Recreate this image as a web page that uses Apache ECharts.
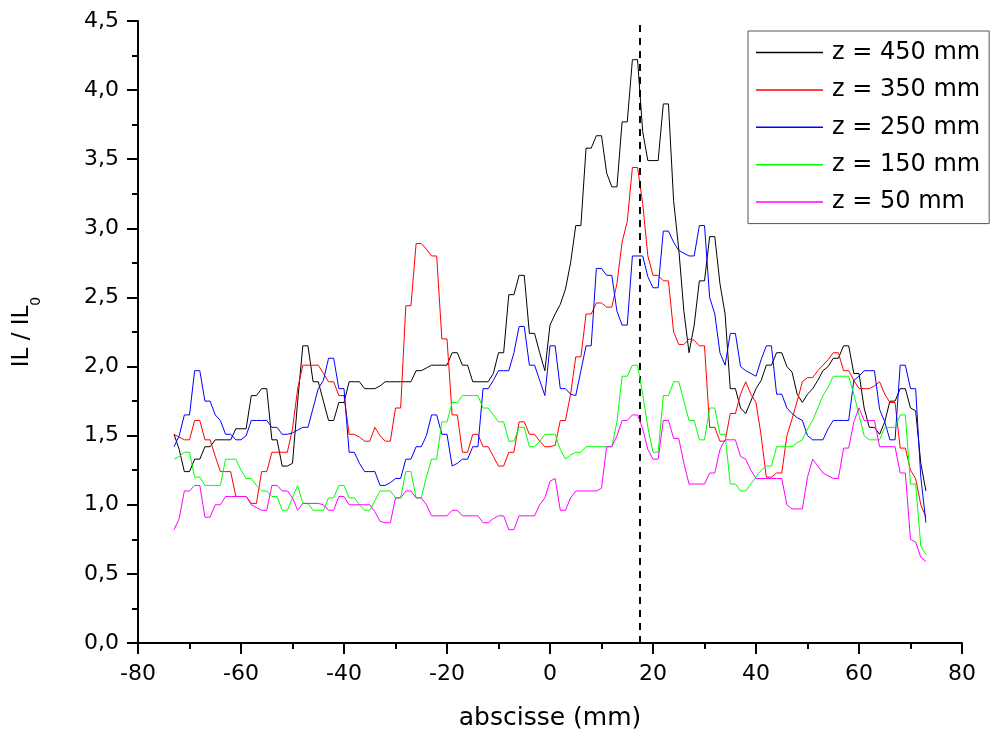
<!DOCTYPE html>
<html>
<head>
<meta charset="utf-8">
<script src="https://cdn.jsdelivr.net/npm/echarts@6/dist/echarts.min.js"></script>
<style>html,body{margin:0;padding:0;background:#fff}#c{width:992px;height:740px}</style>
</head>
<body>
<div id="c"></div>
<script>
// abscissa positions (mm), one per sample
var XS = [];
for (var k = -73; k <= 73; k++) XS.push(k);

var SERIES_NAMES = ['z = 450 mm', 'z = 350 mm', 'z = 250 mm', 'z = 150 mm', 'z = 50 mm'];

var Z450 = [
1.51,1.40,1.24,1.24,1.33,1.33,1.42,1.42,1.47,1.47,
1.47,1.47,1.55,1.55,1.55,1.79,1.79,1.84,1.84,1.47,
1.47,1.28,1.28,1.30,1.75,2.15,2.15,1.89,1.89,1.75,
1.61,1.61,1.74,1.74,1.89,1.89,1.89,1.84,1.84,1.84,
1.86,1.89,1.89,1.89,1.89,1.89,1.89,1.97,1.97,1.99,
2.01,2.01,2.01,2.01,2.10,2.10,2.01,2.01,1.89,1.89,
1.89,1.89,1.95,2.10,2.10,2.52,2.52,2.66,2.66,2.24,
2.24,2.10,1.97,2.30,2.38,2.45,2.56,2.75,3.02,3.02,
3.58,3.58,3.67,3.67,3.40,3.30,3.30,3.77,3.77,4.22,
4.22,3.70,3.49,3.49,3.49,3.90,3.90,3.20,2.85,2.40,
2.10,2.30,2.62,2.62,2.94,2.94,2.60,2.38,1.84,1.84,
1.70,1.66,1.75,1.84,1.90,2.01,2.01,2.10,2.10,2.00,
1.96,1.80,1.74,1.80,1.84,1.90,1.97,2.00,2.06,2.06,
2.15,2.15,1.95,1.95,1.70,1.56,1.56,1.51,1.60,1.75,
1.75,1.84,1.84,1.70,1.68,1.30,1.10];

var Z350 = [
1.51,1.49,1.47,1.47,1.61,1.61,1.47,1.47,1.35,1.24,
1.24,1.24,1.06,1.06,1.06,1.01,1.01,1.24,1.24,1.38,
1.38,1.38,1.38,1.55,1.84,2.01,2.01,2.01,2.01,1.95,
1.89,1.89,1.79,1.79,1.51,1.51,1.49,1.46,1.46,1.56,
1.50,1.46,1.46,1.70,1.70,2.44,2.44,2.89,2.89,2.85,
2.80,2.80,2.20,2.20,1.65,1.65,1.38,1.38,1.51,1.51,
1.42,1.42,1.35,1.28,1.28,1.38,1.38,1.60,1.60,1.51,
1.51,1.46,1.42,1.42,1.43,1.61,1.61,1.80,2.07,2.07,
2.38,2.38,2.46,2.46,2.43,2.43,2.60,2.90,3.05,3.44,
3.44,3.18,2.80,2.66,2.66,2.62,2.62,2.25,2.16,2.16,
2.20,2.19,2.15,2.15,1.56,1.56,1.46,1.46,1.66,1.66,
1.80,1.89,1.80,1.74,1.50,1.20,1.20,1.23,1.23,1.50,
1.62,1.75,1.89,1.92,1.92,1.97,2.01,2.05,2.10,2.10,
1.97,1.97,1.90,1.84,1.84,1.84,1.86,1.89,1.80,1.74,
1.74,1.41,1.41,1.25,1.19,1.00,0.91];

var Z250 = [
1.42,1.50,1.65,1.65,1.97,1.97,1.75,1.75,1.65,1.61,
1.51,1.51,1.47,1.47,1.50,1.61,1.61,1.61,1.61,1.56,
1.56,1.51,1.51,1.52,1.54,1.56,1.56,1.70,1.84,1.90,
2.06,2.06,1.84,1.84,1.38,1.38,1.30,1.24,1.24,1.24,
1.14,1.14,1.16,1.19,1.19,1.33,1.33,1.42,1.42,1.50,
1.65,1.65,1.51,1.51,1.28,1.30,1.33,1.33,1.42,1.42,
1.84,1.84,1.90,1.97,1.97,1.97,2.10,2.29,2.29,2.01,
2.01,1.90,1.79,2.15,2.15,1.84,1.84,1.80,1.79,1.97,
2.15,2.15,2.71,2.71,2.66,2.66,2.40,2.30,2.30,2.80,
2.80,2.80,2.65,2.57,2.57,2.98,2.98,2.90,2.84,2.82,
2.80,2.80,3.02,3.02,2.50,2.38,2.10,2.01,2.24,2.24,
2.00,1.97,1.95,1.93,2.05,2.15,2.15,1.80,1.80,1.70,
1.66,1.63,1.61,1.50,1.47,1.47,1.47,1.55,1.61,1.61,
1.61,1.61,1.90,1.93,1.97,1.97,1.97,1.69,1.60,1.47,
1.47,2.01,2.01,1.84,1.84,1.20,0.87];

var Z150 = [
1.33,1.35,1.38,1.38,1.20,1.20,1.14,1.14,1.14,1.14,
1.33,1.33,1.33,1.25,1.19,1.19,1.14,1.10,1.10,1.06,
1.06,0.96,0.96,1.05,1.14,1.01,1.01,0.96,0.96,0.96,
1.05,1.05,1.14,1.14,1.05,1.05,1.00,0.96,0.96,1.03,
1.10,1.10,1.10,1.05,1.05,1.24,1.24,1.05,1.05,1.20,
1.33,1.33,1.60,1.60,1.74,1.74,1.79,1.79,1.79,1.79,
1.70,1.70,1.65,1.60,1.60,1.46,1.46,1.56,1.56,1.42,
1.42,1.46,1.51,1.51,1.51,1.40,1.33,1.36,1.38,1.38,
1.42,1.42,1.42,1.42,1.42,1.42,1.60,1.93,1.93,2.01,
2.01,1.80,1.56,1.38,1.38,1.79,1.79,1.89,1.89,1.75,
1.61,1.61,1.47,1.47,1.70,1.70,1.51,1.51,1.15,1.15,
1.10,1.10,1.15,1.20,1.25,1.28,1.28,1.42,1.42,1.42,
1.42,1.45,1.47,1.55,1.61,1.70,1.79,1.85,1.93,1.93,
1.93,1.93,1.80,1.65,1.50,1.47,1.47,1.47,1.56,1.56,
1.56,1.65,1.65,1.15,1.15,0.70,0.64];

var Z50 = [
0.82,0.90,1.10,1.10,1.14,1.14,0.91,0.91,1.00,1.00,
1.06,1.06,1.06,1.06,1.06,1.00,0.98,0.96,0.96,1.14,
1.14,1.10,1.10,1.05,0.96,1.01,1.01,1.01,1.01,1.00,
0.96,0.96,1.06,1.06,1.00,1.00,1.00,1.00,1.00,0.95,
0.88,0.87,0.87,1.05,1.05,1.10,1.10,1.05,1.05,1.00,
0.92,0.92,0.92,0.92,0.96,0.96,0.92,0.92,0.92,0.92,
0.87,0.87,0.90,0.92,0.92,0.82,0.82,0.92,0.92,0.92,
0.92,1.00,1.05,1.17,1.19,0.96,0.96,1.05,1.10,1.10,
1.10,1.10,1.10,1.12,1.42,1.42,1.50,1.61,1.61,1.65,
1.65,1.55,1.40,1.33,1.33,1.61,1.61,1.48,1.48,1.30,
1.15,1.15,1.15,1.15,1.23,1.23,1.40,1.47,1.47,1.47,
1.35,1.33,1.25,1.19,1.19,1.19,1.19,1.19,1.19,1.00,
0.97,0.97,0.97,1.20,1.33,1.28,1.23,1.21,1.19,1.19,
1.41,1.41,1.60,1.70,1.61,1.61,1.61,1.42,1.42,1.42,
1.42,1.23,1.23,0.75,0.73,0.62,0.59];

var DASH_X = 17.5;
var X_MIN = -80, X_MAX = 80, X_STEP = 20;
var Y_MIN = 0, Y_MAX = 4.5, Y_STEP = 0.5;

var VALUES = [Z450, Z350, Z250, Z150, Z50];
var COLORS = ['#000000', '#ff0000', '#0000ff', '#00ff00', '#ff00ff'];
var FONT = 'DejaVu Sans';

function pairs(vals) {
  return XS.map(function (x, i) { return [x, vals[i]]; });
}

var series = VALUES.map(function (vals, i) {
  return {
    name: SERIES_NAMES[i],
    type: 'line',
    data: pairs(vals),
    symbol: 'none',
    showSymbol: false,
    lineStyle: { width: 1, color: COLORS[i] },
    itemStyle: { color: COLORS[i] },
    z: 2 + i
  };
});
series[0].markLine = {
  silent: true,
  symbol: 'none',
  label: { show: false },
  lineStyle: { type: [7, 6], color: '#000', width: 2 },
  data: [{ xAxis: DASH_X }]
};

var axisCommon = {
  axisLine: { show: true, onZero: false, lineStyle: { color: '#000', width: 2 } },
  axisTick: { show: true, inside: false, length: 11, lineStyle: { color: '#000', width: 2 } },
  minorTick: { show: true, splitNumber: 2, length: 6, lineStyle: { color: '#000', width: 2 } },
  splitLine: { show: false },
  minorSplitLine: { show: false }
};

var chart = echarts.init(document.getElementById('c'), null, { renderer: 'canvas' });
chart.setOption({
  animation: false,
  backgroundColor: '#fff',
  grid: { left: 138, right: 30, top: 21, bottom: 97, containLabel: false },
  legend: {
    show: true,
    orient: 'vertical',
    left: 748,
    top: 31,
    padding: [8, 9, 8, 8],
    icon: 'rect',
    itemWidth: 67,
    itemHeight: 1.5,
    itemGap: 10.4,
    borderColor: '#555',
    borderWidth: 1,
    backgroundColor: '#fff',
    textStyle: { fontFamily: FONT, fontSize: 24, lineHeight: 27, color: '#000', padding: [0, 0, 0, 4] },
    data: SERIES_NAMES
  },
  xAxis: Object.assign({
    type: 'value',
    min: X_MIN, max: X_MAX, interval: X_STEP,
    name: 'abscisse (mm)',
    nameLocation: 'middle',
    nameGap: 63,
    nameTextStyle: { fontFamily: FONT, fontSize: 25, color: '#000' },
    axisLabel: { fontFamily: FONT, fontSize: 22, color: '#000', margin: 20 }
  }, axisCommon),
  yAxis: Object.assign({
    type: 'value',
    min: Y_MIN, max: Y_MAX, interval: Y_STEP,
    name: '{a|IL / IL}{s|0}',
    nameLocation: 'middle',
    nameGap: 104,
    nameRotate: 90,
    nameTextStyle: {
      fontFamily: FONT, color: '#000',
      rich: {
        a: { fontFamily: FONT, fontSize: 23, lineHeight: 23, verticalAlign: 'top', color: '#000' },
        s: { fontFamily: FONT, fontSize: 14, lineHeight: 14, verticalAlign: 'top', padding: [18, 0, 0, 0], color: '#000' }
      }
    },
    axisLabel: {
      fontFamily: FONT, fontSize: 22, color: '#000', margin: 19,
      formatter: function (v) { return v.toFixed(1).replace('.', ','); }
    }
  }, axisCommon),
  series: series
});
</script>
</body>
</html>
